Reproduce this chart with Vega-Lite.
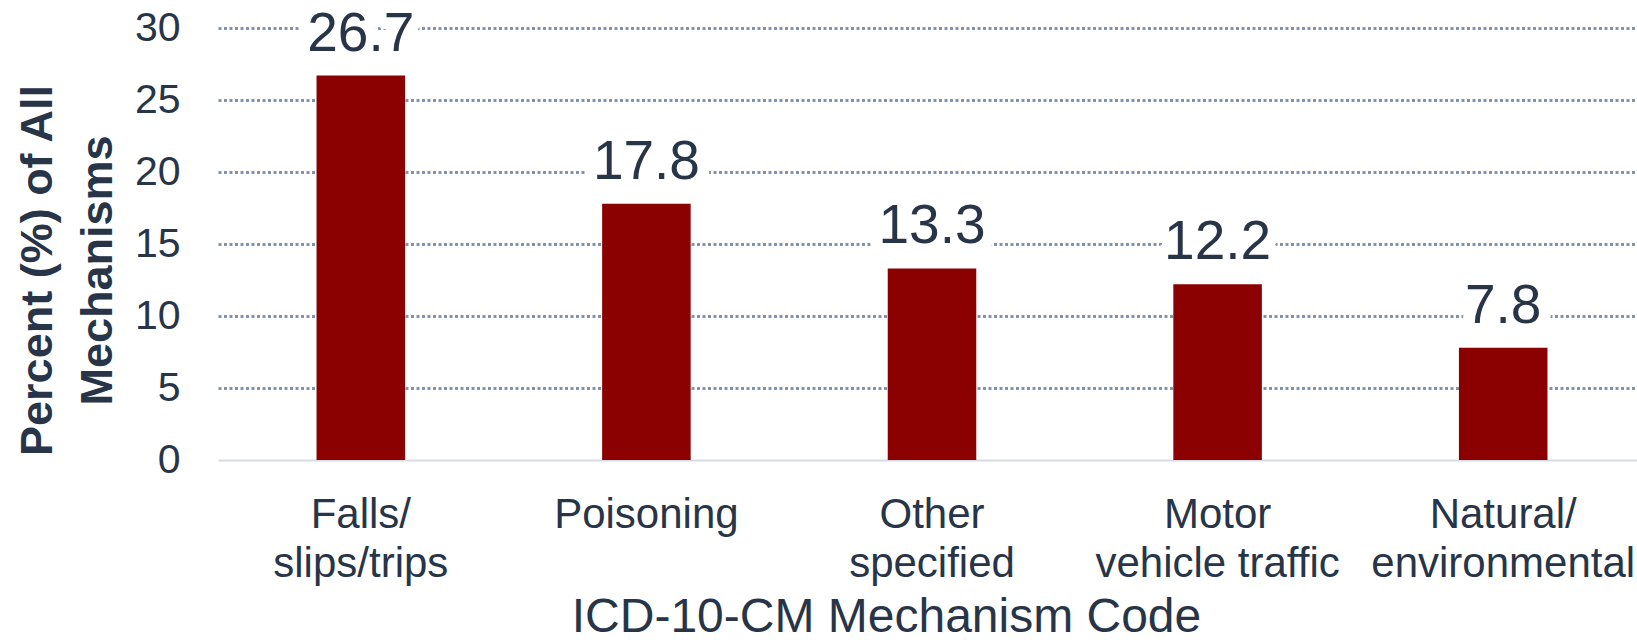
{
  "$schema": "https://vega.github.io/schema/vega-lite/v6.json",
  "autosize": "none",
  "width": 1419,
  "height": 432,
  "padding": {"left": 218, "top": 28, "right": 0, "bottom": 183},
  "background": "white",
  "data": {"values": [
    {"mechanism": "Falls/slips/trips", "percent": 26.7},
    {"mechanism": "Poisoning", "percent": 17.8},
    {"mechanism": "Other specified", "percent": 13.3},
    {"mechanism": "Motor vehicle traffic", "percent": 12.2},
    {"mechanism": "Natural/environmental", "percent": 7.8}
  ]},
  "config": {"view": {"stroke": null}, "font": "Liberation Sans"},
  "encoding": {
    "x": {
      "field": "mechanism", "type": "nominal", "sort": null,
      "scale": {"range": [0, 1428], "paddingInner": 0.69, "paddingOuter": 0.345},
      "axis": {
        "title": "ICD-10-CM Mechanism Code",
        "titleFont": "Liberation Sans", "titleFontSize": 48, "titleFontWeight": "normal", "titleColor": "#283548",
        "titleX": 668, "titleY": 171, "titleAlign": "center", "titleBaseline": "alphabetic", "titleAnchor": null,
        "labelAngle": 0, "labelFontSize": 42, "labelColor": "#283548", "labelPadding": 34,
        "labelBaseline": "top", "labelLineHeight": 49, "labelLimit": 400,
        "labelExpr": "datum.value == 'Falls/slips/trips' ? ['Falls/', 'slips/trips'] : datum.value == 'Other specified' ? ['Other', 'specified'] : datum.value == 'Motor vehicle traffic' ? ['Motor', 'vehicle traffic'] : datum.value == 'Natural/environmental' ? ['Natural/', 'environmental'] : datum.value",
        "ticks": false, "domainColor": "#d6dce5", "domainWidth": 2, "grid": false
      }
    }
  },
  "layer": [
    {
      "mark": {"type": "bar", "color": "#8b0000"},
      "encoding": {
        "y": {
          "field": "percent", "type": "quantitative",
          "scale": {"domain": [0, 30], "nice": false},
          "axis": {
            "values": [0, 5, 10, 15, 20, 25, 30],
            "title": ["Percent (%) of All", "Mechanisms"],
            "titleFontSize": 45, "titleFontWeight": "bold", "titleColor": "#283548",
            "titleAngle": -90, "titleAlign": "center", "titleBaseline": "top", "titleLineHeight": 60,
            "titleX": -203, "titleY": 242, "titleAnchor": null,
            "labelFontSize": 41, "labelColor": "#283548", "labelPadding": 38,
            "ticks": false, "domain": false,
            "grid": true, "gridColor": "#7f93b3", "gridDash": [3, 2.5], "gridWidth": 3,
            "gridOpacity": {"condition": {"test": "datum.value == 0", "value": 0}, "value": 1}
          }
        }
      }
    },
    {
      "mark": {"type": "text", "baseline": "alphabetic", "dy": -25, "fontSize": 55, "stroke": "white", "strokeWidth": 24, "fill": "white", "strokeJoin": "round"},
      "encoding": {
        "y": {"field": "percent", "type": "quantitative"},
        "text": {"field": "percent", "type": "quantitative", "format": ".1f"}
      }
    },
    {
      "mark": {"type": "text", "baseline": "alphabetic", "dy": -25, "fontSize": 55, "color": "#283548"},
      "encoding": {
        "y": {"field": "percent", "type": "quantitative"},
        "text": {"field": "percent", "type": "quantitative", "format": ".1f"}
      }
    }
  ]
}
